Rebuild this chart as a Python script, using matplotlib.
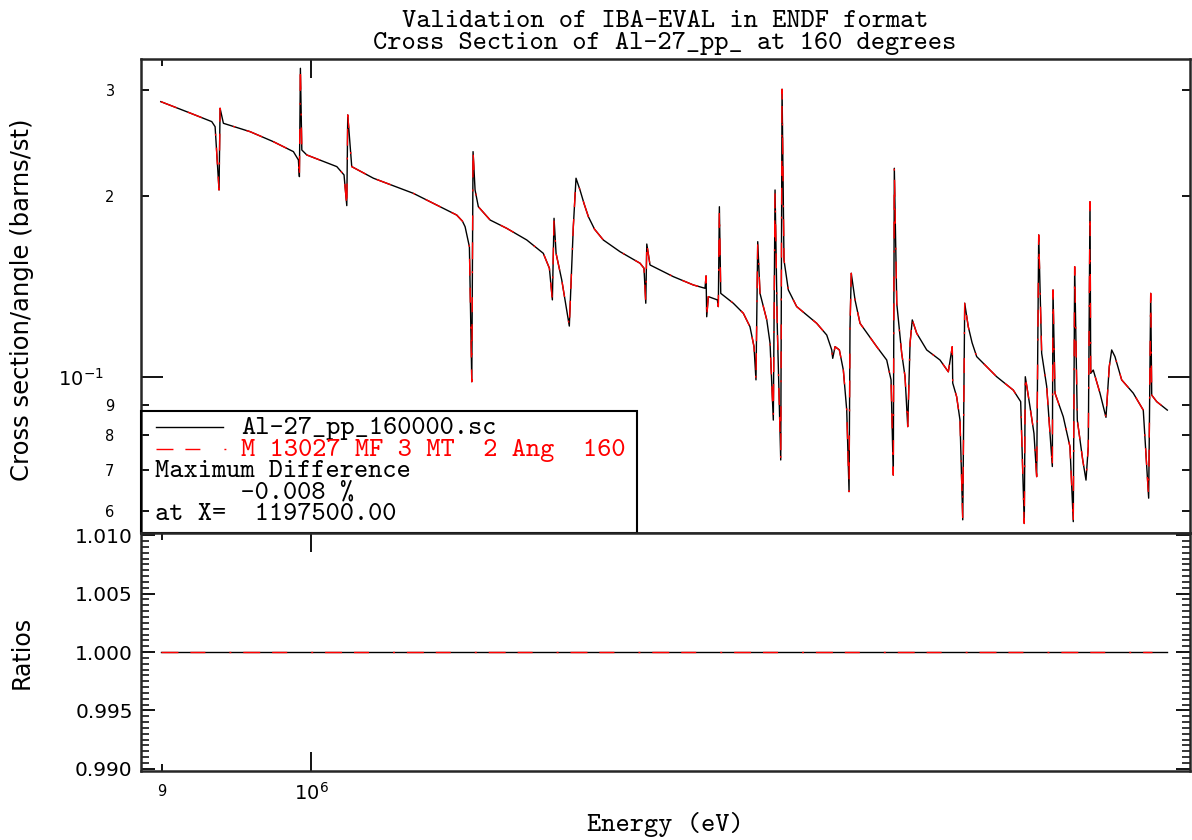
import numpy as np
import matplotlib
matplotlib.use('Agg')
import matplotlib.pyplot as plt
from matplotlib.ticker import FixedLocator, FixedFormatter, MultipleLocator, FormatStrFormatter
from matplotlib.patches import Rectangle

plt.rcParams['lines.scale_dashes'] = False
plt.rcParams['mathtext.fontset'] = 'dejavusans'
plt.rcParams['axes.unicode_minus'] = False

# energy grid (keV)
energy_keV = [
    899.2, 918.0, 932.2, 934.4, 937.0, 937.7, 939.9, 957.8, 973.7, 987.6,
    991.1, 991.8, 992.5, 993.5, 997.0, 1018.4, 1023.6, 1025.6, 1026.3, 1029.2,
    1045.1, 1075.0, 1095.5, 1108.5, 1113.0, 1115.1, 1118.5, 1120.4, 1121.4, 1123.0, 1125.6,
    1135.0, 1148.4, 1164.8, 1178.5, 1183.6, 1186.1, 1187.5, 1189.2, 1194.0, 1200.4,
    1203.8, 1206.1, 1209.5, 1213.0, 1216.7, 1222.0, 1229.6, 1244.2, 1262.0, 1265.5, 1267.1, 1268.0,
    1270.9, 1292.0, 1310.4, 1321.3, 1322.3, 1322.9, 1324.4, 1332.9, 1333.8, 1334.8,
    1336.1, 1348.0, 1357.6, 1364.0, 1367.9, 1369.8, 1371.5, 1373.7, 1380.3, 1383.5,
    1386.7, 1388.4, 1390.6, 1394.0, 1395.3, 1397.2, 1401.5, 1409.8, 1429.9, 1440.1,
    1445.2, 1446.2, 1448.6, 1453.0, 1457.1, 1460.6, 1463.0, 1464.0, 1465.3, 1469.2,
    1474.4, 1491.9, 1502.5, 1507.1, 1509.5, 1510.6, 1513.2, 1518.5, 1522.1, 1525.0,
    1527.5, 1529.9, 1534.7, 1545.6, 1560.2, 1569.4, 1573.8, 1574.3, 1578.7, 1582.4,
    1585.5, 1587.7, 1591.7, 1596.0, 1601.2, 1624.0, 1643.2, 1651.8, 1656.0, 1657.2, 1662.7,
    1667.4, 1670.6, 1673.0, 1676.5, 1682.5, 1689.2, 1690.0, 1692.4, 1702.3, 1710.4,
    1714.4, 1716.1, 1719.3, 1725.9, 1729.9, 1732.7, 1734.8, 1735.7, 1738.8, 1747.1,
    1754.5, 1758.6, 1761.6, 1765.7, 1774.1, 1788.7, 1801.4, 1808.3, 1810.9, 1812.2,
    1818.6, 1832.3]

# cross section (barns/st), Al-27_pp_160000.sc
xs_sc = [
    0.2867, 0.2745, 0.2656, 0.2605, 0.2045, 0.2795, 0.2639, 0.2556, 0.2460, 0.2368,
    0.2294, 0.2152, 0.3257, 0.2383, 0.2338, 0.2236, 0.2166, 0.1926, 0.2725, 0.2236,
    0.2139, 0.2019, 0.1918, 0.1858, 0.1815, 0.1777, 0.1646, 0.0982, 0.2368, 0.2045, 0.1918,
    0.1823, 0.1766, 0.1689, 0.1605, 0.1516, 0.1343, 0.1835, 0.1605, 0.1449, 0.1215,
    0.1777, 0.2139, 0.2045, 0.1940, 0.1846, 0.1760, 0.1689, 0.1615, 0.1545, 0.1516, 0.1326, 0.1663,
    0.1535, 0.1468, 0.1422, 0.1404, 0.1472, 0.1259, 0.1360, 0.1343, 0.1309, 0.1918,
    0.1377, 0.1326, 0.1276, 0.1212, 0.1123, 0.0989, 0.1678, 0.1377, 0.1244, 0.1138,
    0.0848, 0.2045, 0.1212, 0.0728, 0.3006, 0.1565, 0.1395, 0.1309, 0.1228, 0.1174,
    0.1109, 0.1074, 0.1123, 0.1109, 0.1027, 0.0881, 0.0645, 0.1212, 0.1487, 0.1343,
    0.1228, 0.1123, 0.1067, 0.0989, 0.0687, 0.2222, 0.1326, 0.1095, 0.1001, 0.0827,
    0.1138, 0.1244, 0.1182, 0.1109, 0.1067, 0.1020, 0.1123, 0.0977, 0.0927, 0.0848,
    0.0579, 0.1326, 0.1212, 0.1140, 0.1081, 0.1001, 0.0951, 0.0910, 0.0571, 0.1001, 0.0893,
    0.0806, 0.0683, 0.1722, 0.1095, 0.0964, 0.0710, 0.1395, 0.0940, 0.0859, 0.0766,
    0.0575, 0.1525, 0.0848, 0.0728, 0.0674, 0.0766, 0.1955, 0.1014, 0.1027, 0.0940,
    0.0857, 0.1040, 0.1109, 0.1081, 0.0989, 0.0940, 0.0881, 0.0629, 0.1377, 0.0933,
    0.0910, 0.0881]

# ENDF evaluation (MF 3 MT 2) - identical within the plot resolution
xs_endf = list(xs_sc)

# ratios panel
ratio_E_keV = [899.2, 1832.3]
ratio_sc = [1.0, 1.0]
ratio_E_endf_keV = [899.2, 1812.2]
ratio_endf = [1.0, 1.0]

title1 = 'Validation of IBA-EVAL in ENDF format'
title2 = 'Cross Section of Al-27_pp_ at 160 degrees'
leg_lines = ['Al-27_pp_160000.sc', 'M 13027 MF 3 MT  2 Ang  160']
leg_info = ['Maximum Difference', '      -0.008 %', 'at X=  1197500.00']

E = np.array(energy_keV) * 1e3
mono = 'cmtt10'
mono_size = 19.5
sans = 'DejaVu Sans'
dash_red = (0, (12.2, 8.6, 10.8, 17.3, 1.4, 8.6))
spine_c = '#262626'

fig = plt.figure(figsize=(11.92, 8.4), dpi=100)
ax1 = fig.add_axes([0.1183, 0.3655, 0.8800, 0.5643])
ax2 = fig.add_axes([0.1183, 0.0821, 0.8800, 0.2834])

ax1.plot(E, xs_sc, color='black', lw=1.0)
ax1.plot(E, xs_endf, color='red', lw=1.0, ls=dash_red)
ax1.set_xscale('log')
ax1.set_yscale('log')
ax1.set_xlim(886.7e3, 1861.9e3)
ax1.set_ylim(0.05506, 0.33754)

ax2.plot(np.array(ratio_E_keV) * 1e3, ratio_sc, color='black', lw=1.0)
ax2.plot(np.array(ratio_E_endf_keV) * 1e3, ratio_endf, color='red', lw=1.0, ls=dash_red)
ax2.set_xscale('log')
ax2.set_xlim(886.7e3, 1861.9e3)
ax2.set_ylim(0.9898, 1.0102)

for ax in (ax1, ax2):
    for s in ax.spines.values():
        s.set_linewidth(1.8)
        s.set_color(spine_c)
    ax.xaxis.set_major_locator(FixedLocator([1e6]))
    ax.xaxis.set_minor_locator(FixedLocator([9e5]))

# upper panel ticks
ax1.yaxis.set_major_locator(FixedLocator([0.1]))
ax1.yaxis.set_major_formatter(FixedFormatter([r'$10^{-1}$']))
ax1.yaxis.set_minor_locator(FixedLocator([0.06, 0.07, 0.08, 0.09, 0.2, 0.3]))
ax1.yaxis.set_minor_formatter(FixedFormatter(['6', '7', '8', '9', '2', '3']))
ax1.tick_params(axis='y', which='major', direction='in', length=16, width=1.3,
                left=True, right=True, labelsize=14, pad=27)
ax1.tick_params(axis='y', which='minor', direction='in', length=5.5, width=1.3,
                left=True, right=True, labelsize=10.5, pad=19)
ax1.tick_params(axis='x', which='major', direction='in', length=14, width=1.3,
                top=True, bottom=False, labelbottom=False)
ax1.tick_params(axis='x', which='minor', direction='in', length=5, width=1.3,
                top=True, bottom=False, labelbottom=False)
for lab in ax1.get_yticklabels(which='both'):
    lab.set_fontfamily(sans)

# lower panel ticks
ax2.yaxis.set_major_locator(MultipleLocator(0.005))
ax2.yaxis.set_minor_locator(MultipleLocator(0.0005))
ax2.yaxis.set_major_formatter(FormatStrFormatter('%.3f'))
ax2.tick_params(axis='y', which='major', direction='in', length=10, width=1.3,
                left=True, right=True, labelsize=14.5, pad=6)
ax2.tick_params(axis='y', which='minor', direction='in', length=5.5, width=1.1,
                left=True, right=True)
ax2.xaxis.set_major_formatter(FixedFormatter([r'$10^{6}$']))
ax2.xaxis.set_minor_formatter(FixedFormatter(['9']))
ax2.tick_params(axis='x', which='major', direction='in', length=14, width=1.3,
                top=True, bottom=True, labelsize=14, pad=8)
ax2.tick_params(axis='x', which='minor', direction='in', length=5, width=1.3,
                top=True, bottom=True, labelsize=10.5, pad=9)

# titles and axis labels
fig.text(0.5579, 0.9744, title1, family=mono, fontsize=mono_size, ha='center', va='center')
fig.text(0.5579, 0.9482, title2, family=mono, fontsize=mono_size, ha='center', va='center')
fig.text(0.5579, 0.0185, 'Energy (eV)', family=mono, fontsize=mono_size, ha='center', va='center')
fig.text(0.0185, 0.643, 'Cross section/angle (barns/st)', family=sans, fontsize=17.5,
         rotation=90, ha='center', va='center')
fig.text(0.0185, 0.2238, 'Ratios', family=sans, fontsize=17,
         rotation=90, ha='center', va='center')

# legend box
ax1.add_patch(Rectangle((0, 0), 0.4728, 0.2574, transform=ax1.transAxes, fill=False,
                        lw=1.5, ec='black', clip_on=False, zorder=5))
ax1.plot([0.0143, 0.0782], [0.2236, 0.2236], transform=ax1.transAxes, color='black', lw=1.0)
ax1.plot([0.0143, 0.0820], [0.1772, 0.1772], transform=ax1.transAxes, color='red', lw=1.0,
         ls=dash_red)
ax1.text(0.0954, 0.2215, leg_lines[0], transform=ax1.transAxes, family=mono,
         fontsize=mono_size, va='center', color='black')
ax1.text(0.0954, 0.1751, leg_lines[1], transform=ax1.transAxes, family=mono,
         fontsize=mono_size, va='center', color='red')
for k, s in enumerate(leg_info):
    ax1.text(0.0134, 0.1297 - k * 0.0458, s, transform=ax1.transAxes, family=mono,
             fontsize=mono_size, va='center', color='black')

fig.savefig('out.png', dpi=100)
